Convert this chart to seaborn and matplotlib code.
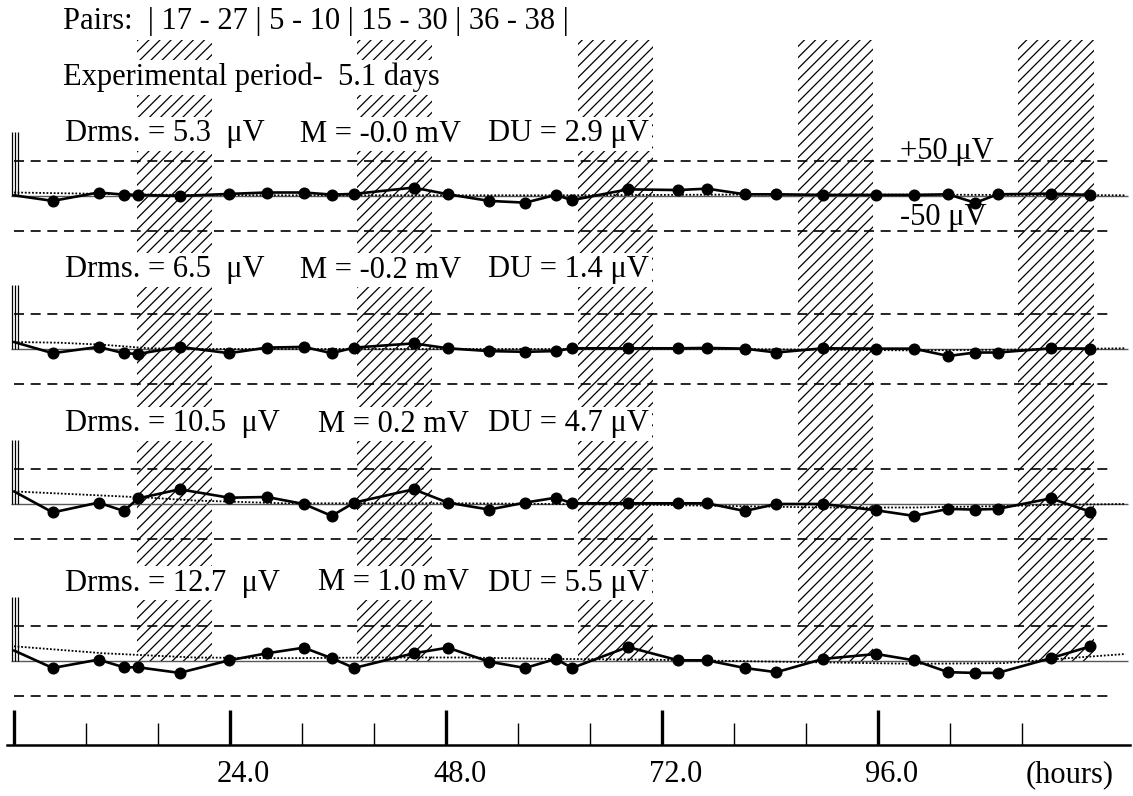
import matplotlib
matplotlib.use("Agg")
import matplotlib.pyplot as plt
import seaborn as sns

# sampling times (hours) of the drift measurements, first one is the start
hours = [0, 4.3, 9.4, 12.2, 13.8, 18.4, 23.9, 28.1, 32.2, 35.3, 37.8, 44.4, 48.2, 52.8,
         56.8, 60.2, 62.0, 68.2, 73.8, 77.0, 81.2, 84.7, 89.9, 95.8, 100.0, 103.8,
         106.8, 109.3, 115.2, 119.6]

# drift per electrode pair (uV)
drift_1 = [1, -7, 5, 2, 1.5, 0, 3, 5, 5, 2, 3, 12, 2.5, -7, -9.5, 1.5, -6, 9.5, 8.5,
           10.5, 2.4, 2.4, 1.5, 1.5, 1.5, 2.4, -9.7, 2.4, 3.4, 1.5]
drift_2 = [10, -6, 3, -6, -7, 3, -6, 2, 3, -6, 2, 8, 1, -3, -4, -3, 1, 1, 1, 1.5, 0.5,
           -5, 1, 0.5, 0.5, -10, -5, -5, 1, 0.5]
drift_3 = [18, -12, 2, -10, 8, 21, 9, 10, 0, -17, 2, 21, 2, -8, 2, 9, 1, 1, 1, 1, -10,
           0, 0, -9, -17, -7, -8, -7, 8, -11]
drift_4 = [15, -10, 2, -9, -9, -17, 1, 11, 19, 4, -10, 11, 19, -1, -10, 3, -10, 20, 1,
           1, -10, -16, 3, 10, 1, -16, -17, -17, 4, 21]

# smoothed trend (dotted)
trend_hours = [0, 5, 10, 15, 20, 30, 40, 50, 60, 70, 80, 90, 100, 110, 116, 123.5]
trend_1 = [5, 4, 3, 2, 1.5, 1, 1, 1, 1, 1.5, 2, 2, 2, 1.5, 1.5, 1]
trend_2 = [10, 9, 6, 1, 0, 0, 0, 0, 0, 0, 0, -1, -2, -1, 0, 1]
trend_3 = [18, 15, 12, 9, 5, 1, 1, 1, 0, -1, -3, -5, -5, -3, -1, 0]
trend_4 = [21, 16, 11, 8, 5, 4, 5, 5, 3, 2, 0, -2, -4, -3, 3, 10]

drms = ["5.3", "6.5", "10.5", "12.7"]
mean_mv = ["-0.0", "-0.2", "0.2", "1.0"]
du = ["2.9", "1.4", "4.7", "5.5"]

# hatched (experimental) periods, hours
band_start = [13.7, 38.1, 62.7, 87.1, 111.6]
band_end = [22.0, 46.4, 71.0, 95.4, 120.0]

major_ticks = [0, 24, 48, 72, 96]
minor_ticks = [8, 16, 32, 40, 56, 64, 80, 88, 104, 112]
tick_labels = ["", "24.0", "48.0", "72.0", "96.0"]

W, H = 1133, 796
X0, PXH = 14, 9.0
XLIM = (-X0 / PXH, (W - X0) / PXH)
ZERO_PX = [196, 349, 504, 661]
TEXT_PX = [134, 270, 424, 583]
M_X = [300, 300, 318, 318]
FS = 22

sns.set_theme(style="white")
plt.rcParams["font.family"] = ["Liberation Serif", "DejaVu Serif"]
plt.rcParams["text.color"] = "black"
plt.rcParams["hatch.linewidth"] = 0.9


def hx(px):
    return (px - X0) / PXH


fig = plt.figure(figsize=(W / 100, H / 100), dpi=100)

# background: hatched periods + text, y in pixels
bg = fig.add_axes([0, 0, 1, 1])
bg.set_xlim(*XLIM)
bg.set_ylim(H, 0)
bg.axis("off")
for s, e in zip(band_start, band_end):
    bg.axvspan(s, e, ymin=1 - 661 / H, ymax=1 - 40 / H, facecolor="none",
               edgecolor="black", hatch="///", linewidth=0, zorder=1)

box = dict(facecolor="white", edgecolor="none", pad=2)
bg.text(hx(63), 22, "Pairs:  | 17 - 27 | 5 - 10 | 15 - 30 | 36 - 38 |", fontsize=FS,
        va="center", ha="left", bbox=box, zorder=5)
bg.text(hx(63), 77, "Experimental period-  5.1 days", fontsize=FS, va="center",
        ha="left", bbox=box, zorder=5)
for i in range(4):
    y = TEXT_PX[i]
    bg.text(hx(65), y, f"Drms. = {drms[i]}  μV", fontsize=FS, va="center", ha="left",
            bbox=box, zorder=5)
    bg.text(hx(M_X[i]), y, f"M = {mean_mv[i]} mV", fontsize=FS, va="center", ha="left",
            bbox=box, zorder=5)
    bg.text(hx(488), y, f"DU = {du[i]} μV", fontsize=FS, va="center", ha="left",
            bbox=box, zorder=5)

drifts = [drift_1, drift_2, drift_3, drift_4]
trends = [trend_1, trend_2, trend_3, trend_4]

for i, z in enumerate(ZERO_PX):
    ax = fig.add_axes([0, 1 - (z + 70) / H, 1, 140 / H])
    ax.set_xlim(*XLIM)
    ax.set_ylim(-100, 100)
    ax.patch.set_alpha(0)
    ax.axis("off")
    ax.hlines([-50, 50], 0.0, 121.6, colors="black", linewidth=1.2,
              linestyles=(0, (6, 4)))
    ax.hlines(0, -0.3, 123.8, colors="0.35", linewidth=1.0)
    ax.vlines([-0.25, 0.08, 0.41], 0, 92, colors="black", linewidth=0.9)
    sns.lineplot(x=trend_hours, y=trends[i], ax=ax, color="black", linewidth=1.3,
                 linestyle=(0, (1, 1)), estimator=None, sort=False)
    sns.lineplot(x=hours, y=drifts[i], ax=ax, color="black", linewidth=1.9,
                 estimator=None, sort=False)
    sns.scatterplot(x=hours[1:], y=drifts[i][1:], ax=ax, color="black", s=75,
                    edgecolor="black", linewidth=0, zorder=5)
    if i == 0:
        ax.text(hx(900), 64, "+50 μV", fontsize=FS, va="center", ha="left")
        ax.text(hx(900), -31, "-50 μV", fontsize=FS, va="center", ha="left")

# time axis
ta = fig.add_axes([0, 1 - 745 / H, 1, 40 / H])
ta.set_xlim(*XLIM)
ta.patch.set_alpha(0)
for side in ["top", "left", "right"]:
    ta.spines[side].set_visible(False)
ta.spines["bottom"].set_linewidth(1.8)
ta.spines["bottom"].set_color("black")
ta.spines["bottom"].set_bounds(-0.8, 124.0)
ta.set_yticks([])
ta.set_xticks(major_ticks)
ta.set_xticks(minor_ticks, minor=True)
ta.set_xticklabels([])
ta.tick_params(axis="x", which="major", bottom=True, direction="in", length=25,
               width=2.4, color="black")
ta.tick_params(axis="x", which="minor", bottom=True, direction="in", length=16,
               width=1.0, color="black")
for t, lab in zip(major_ticks, tick_labels):
    if lab:
        bg.text(t + 1.5, 775, lab, fontsize=FS, ha="center", va="center")
bg.text(hx(1070), 775, "(hours)", fontsize=FS, ha="center", va="center")

fig.savefig("out.png", dpi=100)
